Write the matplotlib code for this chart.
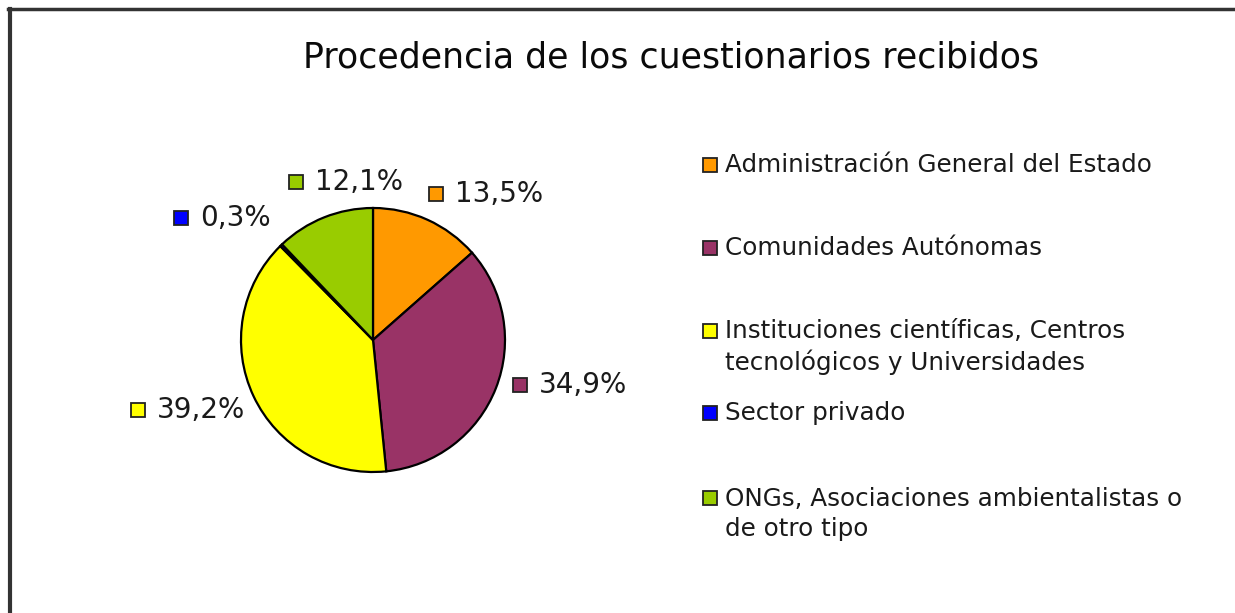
import matplotlib
matplotlib.use("Agg")
import matplotlib.pyplot as plt
from matplotlib.lines import Line2D

plt.rcParams['font.family'] = ['DejaVu Sans']

title = "Procedencia de los cuestionarios recibidos"
categories = [
    "Administración General del Estado",
    "Comunidades Autónomas",
    "Instituciones científicas, Centros\ntecnológicos y Universidades",
    "Sector privado",
    "ONGs, Asociaciones ambientalistas o\nde otro tipo",
]
shares = [13.5, 34.9, 39.2, 0.3, 12.1]
colors = ["#FF9900", "#993366", "#FFFF00", "#0000FF", "#99CC00"]

# where each percentage label sits (square marker position, data units)
label_pos = [(0.63, 1.46), (1.47, -0.45), (-2.35, -0.70), (-1.92, 1.22), (-0.77, 1.58)]

W, H = 1235, 613
fig = plt.figure(figsize=(W / 100, H / 100), dpi=100)
fig.patch.set_facecolor("white")

# pie axes: 100 px per data unit, centre at (373, 340) px
cx, cy = 373, 340
ax = fig.add_axes([(cx - 300) / W, (H - cy - 250) / H, 600 / W, 500 / H])
ax.pie(shares, colors=colors, startangle=90, counterclock=False, radius=1.32,
       wedgeprops=dict(edgecolor="black", linewidth=1.6))
ax.set_xlim(-3, 3)
ax.set_ylim(-2.5, 2.5)
ax.set_aspect("equal")
ax.axis("off")

for share, col, (lx, ly) in zip(shares, colors, label_pos):
    pct = f"{share:.1f}%".replace(".", ",")
    ax.plot(lx, ly, marker="s", markersize=9.5, color=col,
            markeredgecolor="#222222", markeredgewidth=1.3, clip_on=False)
    ax.text(lx + 0.19, ly, pct, fontsize=20, color="#1a1a1a",
            va="center", ha="left")

fig.text(671 / W, 1 - 58 / H, title, fontsize=25, color="#0a0a0a",
         ha="center", va="center")

# legend drawn by hand on the right
leg_y = [165, 248, 347, 413, 514]
for name, col, py in zip(categories, colors, leg_y):
    first_line_y = py - (16 if "\n" in name else 0)
    fig.add_artist(Line2D([710 / W], [1 - first_line_y / H], marker="s",
                          markersize=9.5, color=col, markeredgecolor="#222222",
                          markeredgewidth=1.3))
    fig.text(725 / W, 1 - py / H, name, fontsize=17.7, color="#1a1a1a",
             ha="left", va="center", linespacing=1.32)

# outer frame (top and left edges)
fig.add_artist(Line2D([8 / W, 1.0], [1 - 9 / H, 1 - 9 / H], color="#333333", linewidth=2.5))
fig.add_artist(Line2D([10 / W, 10 / W], [0, 1 - 9 / H], color="#333333", linewidth=3))

fig.savefig("out.png", dpi=100, facecolor="white")
